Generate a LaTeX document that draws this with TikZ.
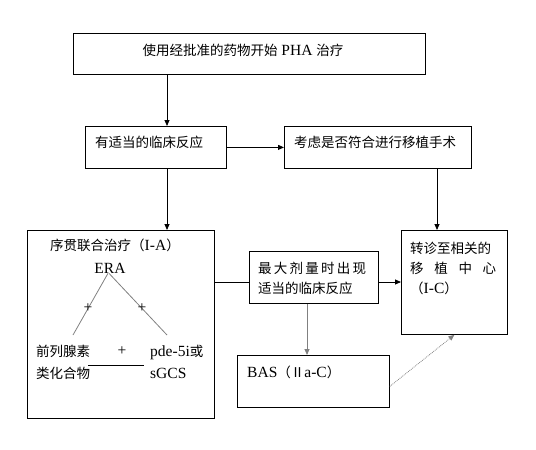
\documentclass[tikz,border=0pt]{standalone}
\usepackage{fontspec}
\setmainfont{Liberation Serif}[Scale=1.15]
\newfontfamily\cjk{Noto Sans CJK SC}
\usepackage{tikz}
\usetikzlibrary{
  arrows.meta,
  positioning,
  calc
}

\begin{document}
\begin{tikzpicture}[x=1pt, y=-1pt,
  box/.style={draw, line width=0.8pt, inner sep=0, anchor=north west},
  txt/.style={inner sep=0, anchor=west, align=left, font=\fontsize{13.5}{20}\selectfont},
  cjktxt/.style={txt, font=\cjk\fontsize{13.5}{20}\selectfont},
  arr/.style={line width=0.8pt, -{Triangle[length=6pt, width=5pt]}},
  twig/.style={gray, line width=0.8pt}]

\useasboundingbox (0,0) rectangle (536,450);

% Boxes
\node[box, minimum width=352, minimum height=41] (start) at (73,33) {};
\node[box, minimum width=141, minimum height=42] (resp) at (85,126) {};
\node[box, minimum width=187, minimum height=42] (consider) at (284,126) {};
\node[box, minimum width=187, minimum height=188] (seq) at (27,230) {};
\node[box, minimum width=129, minimum height=52] (maxdose) at (249,251) {};
\node[box, minimum width=106, minimum height=104] (transfer) at (401,230) {};
\node[box, minimum width=152, minimum height=52] (bas) at (237,355) {};

% Box texts
\node[txt, anchor=center] (startT) at (243,50) {{\cjk 使用经批准的药物开始} PHA {\cjk 治疗}};
\node[cjktxt] (respT) at (95,142) {有适当的临床反应};
\node[cjktxt] (considerT) at (294,142) {考虑是否符合进行移植手术};
\node[cjktxt] (seqT) at (50,245) {序贯联合治疗（{\rmfamily I-A}）};
\node[cjktxt] (maxdoseT) at (258,278)
  {\makebox[108pt][s]{最\hfill 大\hfill 剂\hfill 量\hfill 时\hfill 出\hfill 现}\\适当的临床反应};
\node[cjktxt] (transferT) at (410,268)
  {转诊至相关的\\\makebox[86pt][s]{移\hfill 植\hfill 中\hfill 心}\\（{\rmfamily I-C}）};
\node[txt] (basT) at (247,372) {BAS{\cjk （Ⅱ}a-C{\cjk ）}};

% Combination tree
\node[txt, anchor=center] (era) at (110,268) {ERA};
\coordinate (lft) at (73,335);
\coordinate (rgt) at (167,335);
\draw[twig] ([xshift=-2pt]era.south) -- node[pos=0.57, black, txt, anchor=center] (plusL) {+} (lft);
\draw[twig] ([xshift=-1pt]era.south) -- node[pos=0.57, black, txt, anchor=center] (plusR) {+} (rgt);
\node[cjktxt, font=\cjk\fontsize{13.5}{22}\selectfont] (pgl) at (36,362) {前列腺素\\类化合物};
\node[txt, anchor=center] (plusM) at (122,351) {+};
\node[txt, font=\fontsize{13.5}{22}\selectfont] (pde) at (150,362) {pde-5i{\cjk 或}\\sGCS};
\coordinate (barL) at (88,365);
\coordinate (barR) at (144,365);
\draw[line width=0.8pt] (barL) -- (barR);

% Connectors
\coordinate (colA) at (167,0);
\coordinate (colB) at (437,0);
\coordinate (colC) at (307,0);
\coordinate (rowM) at (0,282);

\draw[arr] (colA |- start.south) -- (colA |- resp.north);
\draw[arr] (resp.east) -- (consider.west);
\draw[arr] (colA |- resp.south) -- (colA |- seq.north);
\draw[arr] (colB |- consider.south) -- (colB |- transfer.north);
\draw[line width=0.8pt] (seq.east |- rowM) -- (maxdose.west |- rowM);
\draw[arr] (maxdose.east |- rowM) -- (transfer.west |- rowM);
\draw[arr, gray] (colC |- maxdose.south) -- (colC |- bas.north);
\draw[arr, gray, densely dotted] ([yshift=-5pt]bas.east) -- (transfer.south);

\end{tikzpicture}
\end{document}
